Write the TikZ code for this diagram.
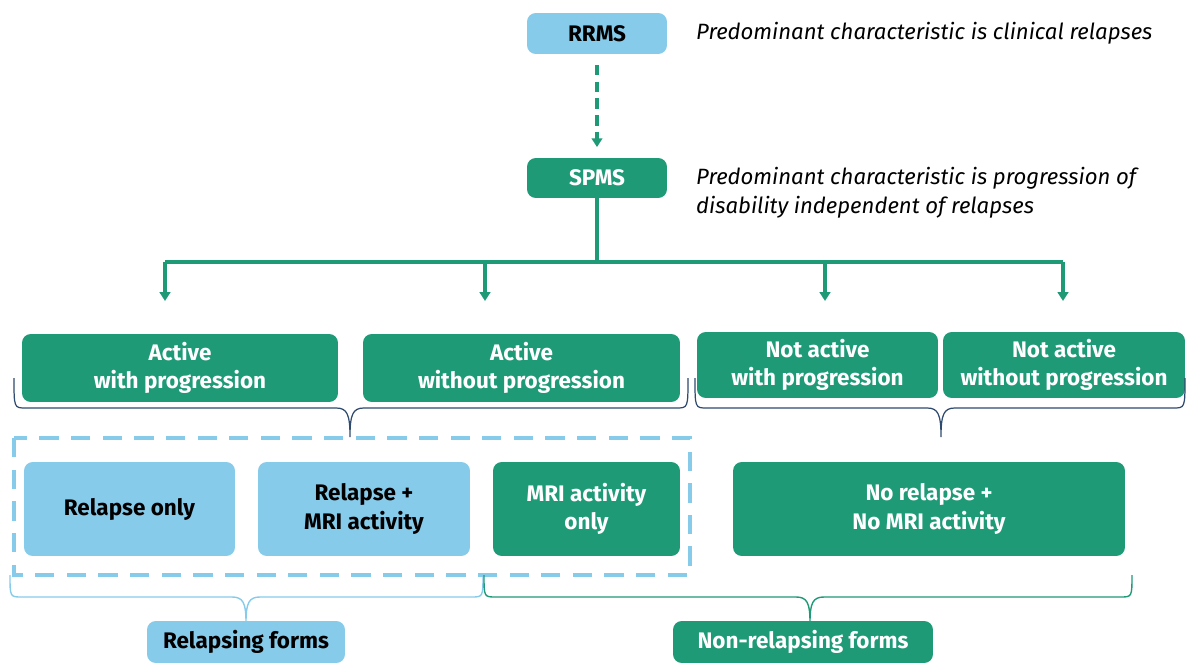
\documentclass[tikz,border=0pt]{standalone}
\usepackage{fontspec}
\setmainfont{Fira Sans}
\usepackage{xcolor}
\usepackage{tikz}
\usetikzlibrary{arrows.meta,positioning}
\definecolor{msgreen}{HTML}{1F9A77}
\definecolor{msblue}{HTML}{86CBEA}
\definecolor{msnavy}{HTML}{2E4A6E}
\newcommand{\msbrace}[7]{%
  \draw[#7] (#1,#4) .. controls (#1,#5) and (#1,#5) .. (#1+12,#5) -- (#3-14,#5)
    .. controls (#3-3,#5) and (#3,#5+6) .. (#3,#6)
    .. controls (#3,#5+6) and (#3+3,#5) .. (#3+14,#5) -- (#2-12,#5)
    .. controls (#2,#5) and (#2,#5) .. (#2,#4);
}

\begin{document}
\begin{tikzpicture}[x=0.02cm,y=-0.02cm,
  box/.style={rounded corners=5pt,align=center,inner sep=0pt,font=\bfseries\fontsize{12.8}{16}\selectfont},
  greenbox/.style={box,fill=msgreen,text=white},
  bluebox/.style={box,fill=msblue,text=black},
  link/.style={msgreen,line width=2.1pt},
  downarrow/.style={-{Triangle[length=5pt,width=6pt]}},
  note/.style={anchor=west,align=left,font=\itshape\fontsize{12.6}{16.5}\selectfont}]
  \useasboundingbox (0,0) rectangle (1188,663);
  % RRMS -> SPMS
  \node[bluebox,minimum width=2.8cm,minimum height=0.82cm] (rrms) at (597,33.5) {RRMS};
  \node[greenbox,minimum width=2.8cm,minimum height=0.8cm] (spms) at (597,178) {SPMS};
  \node[note] (rrmsnote) at (690,33.5) {Predominant characteristic is clinical relapses};
  \node[note] (spmsnote) at (690,192.5) {Predominant characteristic is progression of\\disability independent of relapses};
  \draw[link,dash pattern=on 6pt off 3.5pt,downarrow,shorten <=6pt,shorten >=6pt] (rrms) -- (spms);
  % SPMS subtypes
  \node[greenbox,minimum width=6.32cm,minimum height=1.36cm] (a1) at (180,368) {Active\\with progression};
  \node[greenbox,minimum width=6.34cm,minimum height=1.36cm] (a2) at (521.5,368) {Active\\without progression};
  \node[greenbox,minimum width=4.82cm,minimum height=1.32cm] (n1) at (817.5,365) {Not active\\with progression};
  \node[greenbox,minimum width=4.84cm,minimum height=1.32cm] (n2) at (1064,365) {Not active\\without progression};
  \coordinate (bar) at (597,262);
  \draw[link] (spms) -- (bar);
  \draw[link] (165,262) -- (1063,262);
  \foreach \xx/\nm in {165/a1,485/a2,825/n1,1063/n2}{
    \path (\xx,262) coordinate (s\nm) (\xx,301) coordinate (e\nm);
    \draw[link,downarrow] (s\nm) -- (e\nm);
  }
  \msbrace{14}{688}{350}{378}{408}{437}{msnavy,line width=0.7pt}
  \msbrace{695}{1185}{941}{378}{408}{437}{msnavy,line width=0.7pt}
  % activity groups
  \draw[msblue,line width=2.8pt,dash pattern=on 11pt off 7pt] (14,438) rectangle (690,575);
  \node[bluebox,minimum width=4.22cm,minimum height=1.88cm] (r1) at (129.5,509) {Relapse only};
  \node[bluebox,minimum width=4.24cm,minimum height=1.88cm] (r2) at (364,509) {Relapse +\\MRI activity};
  \node[greenbox,minimum width=3.74cm,minimum height=1.88cm] (r3) at (586.5,509) {MRI activity\\only};
  \node[greenbox,minimum width=7.84cm,minimum height=1.88cm] (r4) at (929,509) {No relapse +\\No MRI activity};
  \msbrace{10}{483}{246}{575}{597}{622}{msblue,line width=0.8pt}
  \msbrace{484}{1132}{810}{575}{597}{622}{msgreen,line width=0.8pt}
  \node[bluebox,minimum width=3.96cm,minimum height=0.84cm] (relf) at (246,642) {Relapsing forms};
  \node[greenbox,minimum width=5.2cm,minimum height=0.84cm] (nrelf) at (803,642) {Non-relapsing forms};
\end{tikzpicture}
\end{document}
